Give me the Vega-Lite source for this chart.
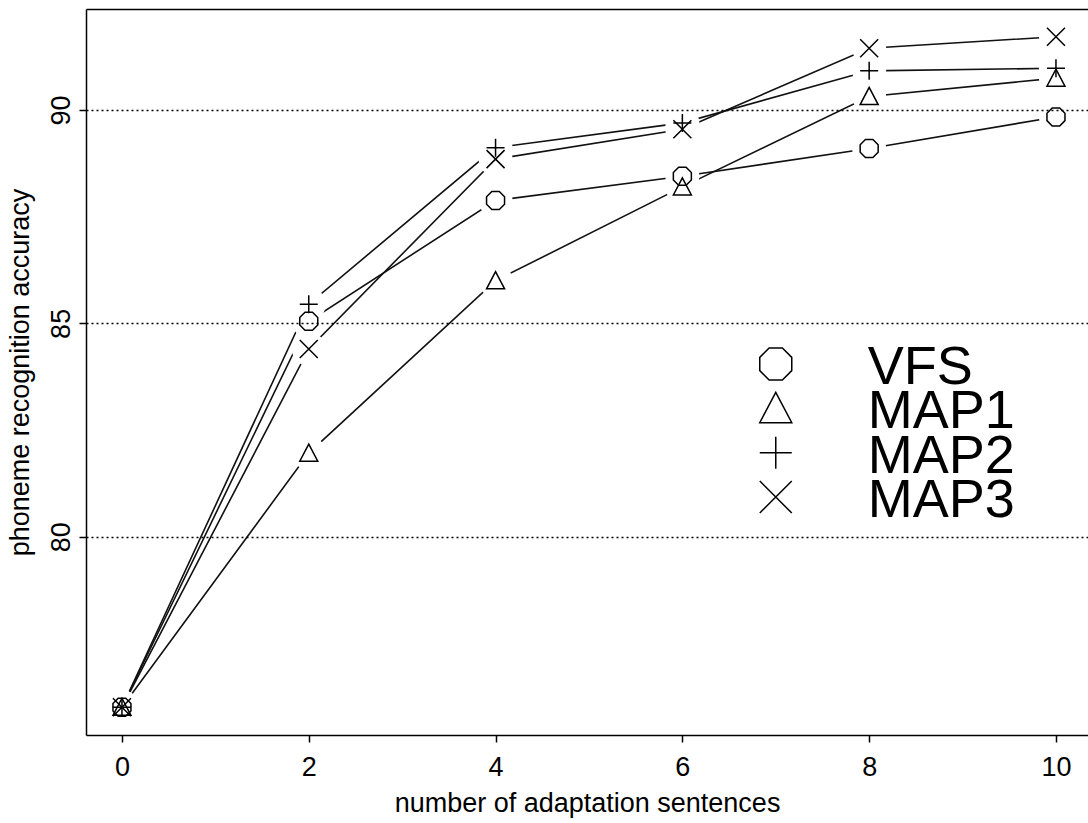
{
  "$schema": "https://vega.github.io/schema/vega-lite/v6.json",
  "autosize": "none",
  "width": 1002,
  "height": 726,
  "padding": {"left": 86, "top": 9, "right": 0, "bottom": 88},
  "background": "white",
  "config": {
    "view": {"stroke": null},
    "font": "Liberation Sans",
    "axis": {
      "domainColor": "black", "domainWidth": 1.5,
      "tickColor": "black", "tickWidth": 1.5, "tickSize": 7,
      "labelColor": "black", "labelFontSize": 27, "labelFont": "Liberation Sans",
      "titleColor": "black", "titleFontSize": 27, "titleFont": "Liberation Sans", "titleFontWeight": "normal"
    }
  },
  "datasets": {
    "results": [
      {"n": 0, "method": "VFS", "acc": 76.0},
      {"n": 2, "method": "VFS", "acc": 85.05},
      {"n": 4, "method": "VFS", "acc": 87.88},
      {"n": 6, "method": "VFS", "acc": 88.45},
      {"n": 8, "method": "VFS", "acc": 89.1},
      {"n": 10, "method": "VFS", "acc": 89.84},
      {"n": 0, "method": "MAP1", "acc": 76.0},
      {"n": 2, "method": "MAP1", "acc": 81.96},
      {"n": 4, "method": "MAP1", "acc": 86.0},
      {"n": 6, "method": "MAP1", "acc": 88.2},
      {"n": 8, "method": "MAP1", "acc": 90.32},
      {"n": 10, "method": "MAP1", "acc": 90.75},
      {"n": 0, "method": "MAP2", "acc": 76.0},
      {"n": 2, "method": "MAP2", "acc": 85.45},
      {"n": 4, "method": "MAP2", "acc": 89.12},
      {"n": 6, "method": "MAP2", "acc": 89.7},
      {"n": 8, "method": "MAP2", "acc": 90.92},
      {"n": 10, "method": "MAP2", "acc": 90.98},
      {"n": 0, "method": "MAP3", "acc": 76.0},
      {"n": 2, "method": "MAP3", "acc": 84.4},
      {"n": 4, "method": "MAP3", "acc": 88.85},
      {"n": 6, "method": "MAP3", "acc": 89.55},
      {"n": 8, "method": "MAP3", "acc": 91.45},
      {"n": 10, "method": "MAP3", "acc": 91.72}
    ],
    "legendItems": [
      {"method": "VFS"},
      {"method": "MAP1"},
      {"method": "MAP2"},
      {"method": "MAP3"}
    ]
  },
  "resolve": {"scale": {"y": "independent"}, "axis": {"x": "independent", "y": "independent"}},
  "layer": [
    {
      "data": {"name": "results"},
      "resolve": {"axis": {"x": "independent"}},
      "layer": [
        {
          "mark": {"type": "line", "color": "#111", "strokeWidth": 1.6},
          "encoding": {
            "x": {"field": "n", "type": "quantitative",
                  "scale": {"domain": [-0.385, 10.343], "nice": false, "zero": false},
                  "axis": {"orient": "bottom", "values": [0, 2, 4, 6, 8, 10], "title": "number of adaptation sentences", "grid": false, "labelPadding": 12, "titlePadding": 10}},
            "y": {"field": "acc", "type": "quantitative",
                  "scale": {"domain": [75.35, 92.37], "nice": false, "zero": false},
                  "axis": {"values": [80, 85, 90], "title": "phoneme recognition accuracy", "grid": true,
                           "gridColor": "black", "gridDash": [2, 3], "gridWidth": 1.5,
                           "labelAngle": 270, "labelPadding": 4, "titlePadding": 13, "zindex": 1}},
            "detail": {"field": "method"},
            "order": {"field": "n"}
          }
        },
        {
          "mark": {"type": "point", "shape": "circle", "filled": true, "fill": "white", "stroke": null, "opacity": 1, "size": 1156},
          "encoding": {
            "x": {"field": "n", "type": "quantitative",
                  "axis": {"orient": "top", "labels": false, "ticks": false, "title": null, "grid": false, "domain": true}},
            "y": {"field": "acc", "type": "quantitative"}
          }
        },
        {
          "mark": {"type": "point", "filled": false, "stroke": "black", "strokeWidth": 1.5, "opacity": 1, "size": 324},
          "encoding": {
            "x": {"field": "n", "type": "quantitative", "axis": null},
            "y": {"field": "acc", "type": "quantitative"},
            "shape": {"field": "method", "type": "nominal",
                      "scale": {"domain": ["VFS", "MAP1", "MAP2", "MAP3"],
                                "range": ["M-0.414,-1L0.414,-1L1,-0.414L1,0.414L0.414,1L-0.414,1L-1,0.414L-1,-0.414Z",
                                          "M0,-1L1,0.9L-1,0.9Z",
                                          "M-1,0L1,0M0,-1L0,1",
                                          "M-1,-1L1,1M-1,1L1,-1"]},
                      "legend": null}
          }
        }
      ]
    },
    {
      "data": {"name": "legendItems"},
      "layer": [
        {
          "mark": {"type": "point", "filled": false, "stroke": "black", "strokeWidth": 1.5, "opacity": 1, "size": 1024},
          "encoding": {
            "x": {"datum": 7, "type": "quantitative", "axis": null},
            "y": {"field": "method", "type": "nominal", "axis": null,
                  "scale": {"type": "point", "domain": ["VFS", "MAP1", "MAP2", "MAP3"], "range": [355, 488], "padding": 0}},
            "shape": {"field": "method", "type": "nominal", "legend": null}
          }
        },
        {
          "mark": {"type": "text", "align": "left", "baseline": "alphabetic", "dy": 20, "fontSize": 54, "font": "Liberation Sans", "color": "black"},
          "encoding": {
            "x": {"datum": 7.985, "type": "quantitative", "axis": null},
            "y": {"field": "method", "type": "nominal", "axis": null},
            "text": {"field": "method"}
          }
        }
      ]
    }
  ]
}
